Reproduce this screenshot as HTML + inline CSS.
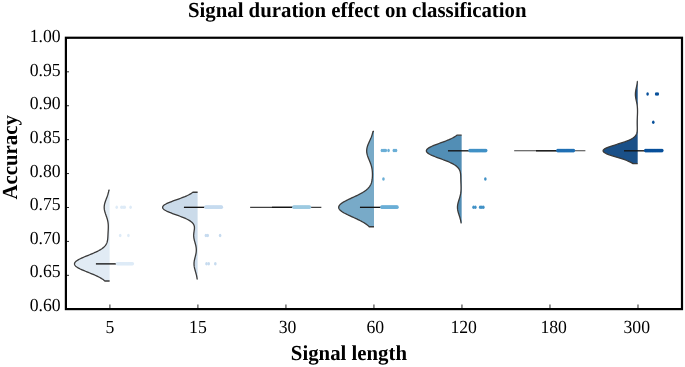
<!DOCTYPE html>
<html><head><meta charset="utf-8"><title>Signal duration effect on classification</title>
<style>html,body{margin:0;padding:0;background:#fff}svg{display:block}</style></head>
<body>
<svg width="685" height="367" viewBox="0 0 685 367">
<rect width="685" height="367" fill="#fff"/>
<path d="M109.61,190.24 L108.88,190.24 L108.77,190.81 L108.66,191.39 L108.54,191.96 L108.40,192.53 L108.26,193.10 L108.10,193.67 L107.94,194.24 L107.76,194.81 L107.58,195.38 L107.38,195.95 L107.18,196.52 L106.98,197.09 L106.76,197.66 L106.55,198.23 L106.33,198.80 L106.11,199.37 L105.89,199.94 L105.68,200.52 L105.48,201.09 L105.28,201.66 L105.09,202.23 L104.92,202.80 L104.76,203.37 L104.62,203.94 L104.49,204.51 L104.39,205.08 L104.31,205.65 L104.25,206.22 L104.21,206.79 L104.20,207.36 L104.21,207.93 L104.25,208.50 L104.30,209.07 L104.38,209.65 L104.49,210.22 L104.61,210.79 L104.74,211.36 L104.90,211.93 L105.07,212.50 L105.25,213.07 L105.43,213.64 L105.63,214.21 L105.83,214.78 L106.03,215.35 L106.24,215.92 L106.44,216.49 L106.63,217.06 L106.83,217.63 L107.01,218.20 L107.18,218.78 L107.35,219.35 L107.50,219.92 L107.64,220.49 L107.76,221.06 L107.88,221.63 L107.97,222.20 L108.06,222.77 L108.13,223.34 L108.19,223.91 L108.24,224.48 L108.27,225.05 L108.30,225.62 L108.31,226.19 L108.32,226.76 L108.31,227.34 L108.30,227.91 L108.29,228.48 L108.27,229.05 L108.24,229.62 L108.21,230.19 L108.18,230.76 L108.15,231.33 L108.12,231.90 L108.09,232.47 L108.06,233.04 L108.03,233.61 L108.00,234.18 L107.98,234.75 L107.95,235.32 L107.92,235.89 L107.89,236.47 L107.86,237.04 L107.82,237.61 L107.78,238.18 L107.73,238.75 L107.67,239.32 L107.59,239.89 L107.50,240.46 L107.39,241.03 L107.25,241.60 L107.09,242.17 L106.89,242.74 L106.66,243.31 L106.39,243.88 L106.07,244.45 L105.70,245.02 L105.28,245.60 L104.80,246.17 L104.26,246.74 L103.65,247.31 L102.97,247.88 L102.23,248.45 L101.41,249.02 L100.52,249.59 L99.56,250.16 L98.53,250.73 L97.42,251.30 L96.26,251.87 L95.03,252.44 L93.75,253.01 L92.43,253.58 L91.07,254.16 L89.68,254.73 L88.28,255.30 L86.88,255.87 L85.49,256.44 L84.12,257.01 L82.79,257.58 L81.51,258.15 L80.30,258.72 L79.17,259.29 L78.14,259.86 L77.22,260.43 L76.41,261.00 L75.74,261.57 L75.21,262.14 L74.82,262.71 L74.58,263.29 L74.50,263.86 L74.57,264.43 L74.80,265.00 L75.19,265.57 L75.71,266.14 L76.38,266.71 L77.18,267.28 L78.10,267.85 L79.13,268.42 L80.26,268.99 L81.47,269.56 L82.75,270.13 L84.09,270.70 L85.47,271.27 L86.88,271.84 L88.29,272.42 L89.71,272.99 L91.12,273.56 L92.50,274.13 L93.85,274.70 L95.16,275.27 L96.42,275.84 L97.62,276.41 L98.76,276.98 L99.84,277.55 L100.85,278.12 L101.79,278.69 L102.66,279.26 L103.46,279.83 L104.19,280.40 L104.86,280.98 L109.61,280.98 Z" fill="#e1ebf4" stroke="none"/>
<path d="M109.61,190.24 L108.88,190.24 L108.77,190.81 L108.66,191.39 L108.54,191.96 L108.40,192.53 L108.26,193.10 L108.10,193.67 L107.94,194.24 L107.76,194.81 L107.58,195.38 L107.38,195.95 L107.18,196.52 L106.98,197.09 L106.76,197.66 L106.55,198.23 L106.33,198.80 L106.11,199.37 L105.89,199.94 L105.68,200.52 L105.48,201.09 L105.28,201.66 L105.09,202.23 L104.92,202.80 L104.76,203.37 L104.62,203.94 L104.49,204.51 L104.39,205.08 L104.31,205.65 L104.25,206.22 L104.21,206.79 L104.20,207.36 L104.21,207.93 L104.25,208.50 L104.30,209.07 L104.38,209.65 L104.49,210.22 L104.61,210.79 L104.74,211.36 L104.90,211.93 L105.07,212.50 L105.25,213.07 L105.43,213.64 L105.63,214.21 L105.83,214.78 L106.03,215.35 L106.24,215.92 L106.44,216.49 L106.63,217.06 L106.83,217.63 L107.01,218.20 L107.18,218.78 L107.35,219.35 L107.50,219.92 L107.64,220.49 L107.76,221.06 L107.88,221.63 L107.97,222.20 L108.06,222.77 L108.13,223.34 L108.19,223.91 L108.24,224.48 L108.27,225.05 L108.30,225.62 L108.31,226.19 L108.32,226.76 L108.31,227.34 L108.30,227.91 L108.29,228.48 L108.27,229.05 L108.24,229.62 L108.21,230.19 L108.18,230.76 L108.15,231.33 L108.12,231.90 L108.09,232.47 L108.06,233.04 L108.03,233.61 L108.00,234.18 L107.98,234.75 L107.95,235.32 L107.92,235.89 L107.89,236.47 L107.86,237.04 L107.82,237.61 L107.78,238.18 L107.73,238.75 L107.67,239.32 L107.59,239.89 L107.50,240.46 L107.39,241.03 L107.25,241.60 L107.09,242.17 L106.89,242.74 L106.66,243.31 L106.39,243.88 L106.07,244.45 L105.70,245.02 L105.28,245.60 L104.80,246.17 L104.26,246.74 L103.65,247.31 L102.97,247.88 L102.23,248.45 L101.41,249.02 L100.52,249.59 L99.56,250.16 L98.53,250.73 L97.42,251.30 L96.26,251.87 L95.03,252.44 L93.75,253.01 L92.43,253.58 L91.07,254.16 L89.68,254.73 L88.28,255.30 L86.88,255.87 L85.49,256.44 L84.12,257.01 L82.79,257.58 L81.51,258.15 L80.30,258.72 L79.17,259.29 L78.14,259.86 L77.22,260.43 L76.41,261.00 L75.74,261.57 L75.21,262.14 L74.82,262.71 L74.58,263.29 L74.50,263.86 L74.57,264.43 L74.80,265.00 L75.19,265.57 L75.71,266.14 L76.38,266.71 L77.18,267.28 L78.10,267.85 L79.13,268.42 L80.26,268.99 L81.47,269.56 L82.75,270.13 L84.09,270.70 L85.47,271.27 L86.88,271.84 L88.29,272.42 L89.71,272.99 L91.12,273.56 L92.50,274.13 L93.85,274.70 L95.16,275.27 L96.42,275.84 L97.62,276.41 L98.76,276.98 L99.84,277.55 L100.85,278.12 L101.79,278.69 L102.66,279.26 L103.46,279.83 L104.19,280.40 L104.86,280.98 L109.61,280.98" fill="none" stroke="#3a3a3a" stroke-width="1.3" stroke-linejoin="round"/>
<path d="M197.62,192.24 L192.88,192.24 L192.16,192.79 L191.36,193.33 L190.48,193.88 L189.52,194.43 L188.48,194.97 L187.36,195.52 L186.16,196.06 L184.89,196.61 L183.55,197.15 L182.14,197.70 L180.69,198.24 L179.20,198.79 L177.68,199.33 L176.15,199.88 L174.62,200.43 L173.11,200.97 L171.64,201.52 L170.22,202.06 L168.87,202.61 L167.62,203.15 L166.47,203.70 L165.45,204.24 L164.57,204.79 L163.84,205.34 L163.27,205.88 L162.88,206.43 L162.66,206.97 L162.63,207.52 L162.77,208.06 L163.10,208.61 L163.60,209.15 L164.27,209.70 L165.10,210.24 L166.07,210.79 L167.16,211.34 L168.38,211.88 L169.68,212.43 L171.07,212.97 L172.51,213.52 L174.00,214.06 L175.51,214.61 L177.02,215.15 L178.53,215.70 L180.01,216.24 L181.45,216.79 L182.83,217.34 L184.16,217.88 L185.41,218.43 L186.59,218.97 L187.68,219.52 L188.69,220.06 L189.60,220.61 L190.43,221.15 L191.17,221.70 L191.82,222.25 L192.38,222.79 L192.87,223.34 L193.28,223.88 L193.61,224.43 L193.88,224.97 L194.09,225.52 L194.25,226.06 L194.36,226.61 L194.42,227.15 L194.44,227.70 L194.44,228.25 L194.41,228.79 L194.36,229.34 L194.29,229.88 L194.21,230.43 L194.13,230.97 L194.05,231.52 L193.96,232.06 L193.89,232.61 L193.82,233.15 L193.76,233.70 L193.72,234.25 L193.69,234.79 L193.68,235.34 L193.69,235.88 L193.72,236.43 L193.76,236.97 L193.82,237.52 L193.90,238.06 L194.00,238.61 L194.11,239.15 L194.23,239.70 L194.36,240.25 L194.50,240.79 L194.65,241.34 L194.81,241.88 L194.96,242.43 L195.12,242.97 L195.27,243.52 L195.42,244.06 L195.57,244.61 L195.70,245.16 L195.83,245.70 L195.94,246.25 L196.04,246.79 L196.13,247.34 L196.20,247.88 L196.25,248.43 L196.29,248.97 L196.32,249.52 L196.32,250.06 L196.31,250.61 L196.28,251.16 L196.24,251.70 L196.18,252.25 L196.10,252.79 L196.01,253.34 L195.91,253.88 L195.80,254.43 L195.68,254.97 L195.55,255.52 L195.41,256.06 L195.27,256.61 L195.13,257.16 L194.99,257.70 L194.85,258.25 L194.72,258.79 L194.59,259.34 L194.47,259.88 L194.36,260.43 L194.26,260.97 L194.18,261.52 L194.11,262.07 L194.07,262.61 L194.03,263.16 L194.02,263.70 L194.02,264.25 L194.05,264.79 L194.09,265.34 L194.15,265.88 L194.22,266.43 L194.31,266.97 L194.42,267.52 L194.53,268.07 L194.66,268.61 L194.80,269.16 L194.95,269.70 L195.10,270.25 L195.26,270.79 L195.41,271.34 L195.57,271.88 L195.73,272.43 L195.88,272.97 L196.03,273.52 L196.17,274.07 L196.31,274.61 L196.44,275.16 L196.57,275.70 L196.68,276.25 L196.79,276.79 L196.89,277.34 L196.98,277.88 L197.06,278.43 L197.13,278.98 L197.62,278.98 Z" fill="#cbdbea" stroke="none"/>
<path d="M197.62,192.24 L192.88,192.24 L192.16,192.79 L191.36,193.33 L190.48,193.88 L189.52,194.43 L188.48,194.97 L187.36,195.52 L186.16,196.06 L184.89,196.61 L183.55,197.15 L182.14,197.70 L180.69,198.24 L179.20,198.79 L177.68,199.33 L176.15,199.88 L174.62,200.43 L173.11,200.97 L171.64,201.52 L170.22,202.06 L168.87,202.61 L167.62,203.15 L166.47,203.70 L165.45,204.24 L164.57,204.79 L163.84,205.34 L163.27,205.88 L162.88,206.43 L162.66,206.97 L162.63,207.52 L162.77,208.06 L163.10,208.61 L163.60,209.15 L164.27,209.70 L165.10,210.24 L166.07,210.79 L167.16,211.34 L168.38,211.88 L169.68,212.43 L171.07,212.97 L172.51,213.52 L174.00,214.06 L175.51,214.61 L177.02,215.15 L178.53,215.70 L180.01,216.24 L181.45,216.79 L182.83,217.34 L184.16,217.88 L185.41,218.43 L186.59,218.97 L187.68,219.52 L188.69,220.06 L189.60,220.61 L190.43,221.15 L191.17,221.70 L191.82,222.25 L192.38,222.79 L192.87,223.34 L193.28,223.88 L193.61,224.43 L193.88,224.97 L194.09,225.52 L194.25,226.06 L194.36,226.61 L194.42,227.15 L194.44,227.70 L194.44,228.25 L194.41,228.79 L194.36,229.34 L194.29,229.88 L194.21,230.43 L194.13,230.97 L194.05,231.52 L193.96,232.06 L193.89,232.61 L193.82,233.15 L193.76,233.70 L193.72,234.25 L193.69,234.79 L193.68,235.34 L193.69,235.88 L193.72,236.43 L193.76,236.97 L193.82,237.52 L193.90,238.06 L194.00,238.61 L194.11,239.15 L194.23,239.70 L194.36,240.25 L194.50,240.79 L194.65,241.34 L194.81,241.88 L194.96,242.43 L195.12,242.97 L195.27,243.52 L195.42,244.06 L195.57,244.61 L195.70,245.16 L195.83,245.70 L195.94,246.25 L196.04,246.79 L196.13,247.34 L196.20,247.88 L196.25,248.43 L196.29,248.97 L196.32,249.52 L196.32,250.06 L196.31,250.61 L196.28,251.16 L196.24,251.70 L196.18,252.25 L196.10,252.79 L196.01,253.34 L195.91,253.88 L195.80,254.43 L195.68,254.97 L195.55,255.52 L195.41,256.06 L195.27,256.61 L195.13,257.16 L194.99,257.70 L194.85,258.25 L194.72,258.79 L194.59,259.34 L194.47,259.88 L194.36,260.43 L194.26,260.97 L194.18,261.52 L194.11,262.07 L194.07,262.61 L194.03,263.16 L194.02,263.70 L194.02,264.25 L194.05,264.79 L194.09,265.34 L194.15,265.88 L194.22,266.43 L194.31,266.97 L194.42,267.52 L194.53,268.07 L194.66,268.61 L194.80,269.16 L194.95,269.70 L195.10,270.25 L195.26,270.79 L195.41,271.34 L195.57,271.88 L195.73,272.43 L195.88,272.97 L196.03,273.52 L196.17,274.07 L196.31,274.61 L196.44,275.16 L196.57,275.70 L196.68,276.25 L196.79,276.79 L196.89,277.34 L196.98,277.88 L197.06,278.43 L197.13,278.98 L197.62,278.98" fill="none" stroke="#3a3a3a" stroke-width="1.3" stroke-linejoin="round"/>
<line x1="250.14" y1="207.34" x2="321.34" y2="207.34" stroke="#404040" stroke-width="1.1"/>
<path d="M374.00,131.41 L373.01,131.41 L372.88,132.01 L372.74,132.61 L372.59,133.21 L372.43,133.81 L372.25,134.41 L372.06,135.01 L371.86,135.61 L371.65,136.21 L371.43,136.81 L371.19,137.41 L370.95,138.01 L370.69,138.61 L370.43,139.21 L370.16,139.81 L369.89,140.41 L369.62,141.01 L369.35,141.61 L369.08,142.20 L368.81,142.80 L368.55,143.40 L368.29,144.00 L368.05,144.60 L367.82,145.20 L367.61,145.80 L367.41,146.40 L367.24,147.00 L367.08,147.60 L366.95,148.20 L366.85,148.80 L366.77,149.40 L366.71,150.00 L366.69,150.60 L366.69,151.20 L366.71,151.80 L366.77,152.40 L366.85,153.00 L366.96,153.60 L367.09,154.20 L367.24,154.80 L367.41,155.40 L367.60,155.99 L367.81,156.59 L368.03,157.19 L368.26,157.79 L368.50,158.39 L368.74,158.99 L368.99,159.59 L369.25,160.19 L369.50,160.79 L369.74,161.39 L369.99,161.99 L370.22,162.59 L370.45,163.19 L370.67,163.79 L370.88,164.39 L371.07,164.99 L371.25,165.59 L371.42,166.19 L371.58,166.79 L371.72,167.39 L371.84,167.99 L371.96,168.59 L372.06,169.19 L372.14,169.78 L372.22,170.38 L372.28,170.98 L372.33,171.58 L372.37,172.18 L372.40,172.78 L372.43,173.38 L372.44,173.98 L372.44,174.58 L372.44,175.18 L372.42,175.78 L372.40,176.38 L372.37,176.98 L372.33,177.58 L372.28,178.18 L372.22,178.78 L372.15,179.38 L372.07,179.98 L371.96,180.58 L371.85,181.18 L371.71,181.78 L371.55,182.38 L371.36,182.98 L371.14,183.57 L370.90,184.17 L370.62,184.77 L370.30,185.37 L369.94,185.97 L369.54,186.57 L369.08,187.17 L368.58,187.77 L368.02,188.37 L367.41,188.97 L366.74,189.57 L366.01,190.17 L365.22,190.77 L364.37,191.37 L363.45,191.97 L362.48,192.57 L361.45,193.17 L360.36,193.77 L359.23,194.37 L358.05,194.97 L356.83,195.57 L355.57,196.17 L354.30,196.77 L353.00,197.36 L351.70,197.96 L350.40,198.56 L349.12,199.16 L347.87,199.76 L346.65,200.36 L345.47,200.96 L344.36,201.56 L343.32,202.16 L342.37,202.76 L341.50,203.36 L340.74,203.96 L340.09,204.56 L339.55,205.16 L339.14,205.76 L338.86,206.36 L338.71,206.96 L338.69,207.56 L338.81,208.16 L339.06,208.76 L339.44,209.36 L339.95,209.96 L340.58,210.56 L341.32,211.15 L342.16,211.75 L343.11,212.35 L344.13,212.95 L345.24,213.55 L346.41,214.15 L347.63,214.75 L348.89,215.35 L350.19,215.95 L351.50,216.55 L352.82,217.15 L354.15,217.75 L355.46,218.35 L356.74,218.95 L358.00,219.55 L359.23,220.15 L360.41,220.75 L361.55,221.35 L362.63,221.95 L363.66,222.55 L364.64,223.15 L365.55,223.75 L366.40,224.35 L367.20,224.95 L367.93,225.54 L368.60,226.14 L369.22,226.74 L374.00,226.74 Z" fill="#78aac8" stroke="none"/>
<path d="M374.00,131.41 L373.01,131.41 L372.88,132.01 L372.74,132.61 L372.59,133.21 L372.43,133.81 L372.25,134.41 L372.06,135.01 L371.86,135.61 L371.65,136.21 L371.43,136.81 L371.19,137.41 L370.95,138.01 L370.69,138.61 L370.43,139.21 L370.16,139.81 L369.89,140.41 L369.62,141.01 L369.35,141.61 L369.08,142.20 L368.81,142.80 L368.55,143.40 L368.29,144.00 L368.05,144.60 L367.82,145.20 L367.61,145.80 L367.41,146.40 L367.24,147.00 L367.08,147.60 L366.95,148.20 L366.85,148.80 L366.77,149.40 L366.71,150.00 L366.69,150.60 L366.69,151.20 L366.71,151.80 L366.77,152.40 L366.85,153.00 L366.96,153.60 L367.09,154.20 L367.24,154.80 L367.41,155.40 L367.60,155.99 L367.81,156.59 L368.03,157.19 L368.26,157.79 L368.50,158.39 L368.74,158.99 L368.99,159.59 L369.25,160.19 L369.50,160.79 L369.74,161.39 L369.99,161.99 L370.22,162.59 L370.45,163.19 L370.67,163.79 L370.88,164.39 L371.07,164.99 L371.25,165.59 L371.42,166.19 L371.58,166.79 L371.72,167.39 L371.84,167.99 L371.96,168.59 L372.06,169.19 L372.14,169.78 L372.22,170.38 L372.28,170.98 L372.33,171.58 L372.37,172.18 L372.40,172.78 L372.43,173.38 L372.44,173.98 L372.44,174.58 L372.44,175.18 L372.42,175.78 L372.40,176.38 L372.37,176.98 L372.33,177.58 L372.28,178.18 L372.22,178.78 L372.15,179.38 L372.07,179.98 L371.96,180.58 L371.85,181.18 L371.71,181.78 L371.55,182.38 L371.36,182.98 L371.14,183.57 L370.90,184.17 L370.62,184.77 L370.30,185.37 L369.94,185.97 L369.54,186.57 L369.08,187.17 L368.58,187.77 L368.02,188.37 L367.41,188.97 L366.74,189.57 L366.01,190.17 L365.22,190.77 L364.37,191.37 L363.45,191.97 L362.48,192.57 L361.45,193.17 L360.36,193.77 L359.23,194.37 L358.05,194.97 L356.83,195.57 L355.57,196.17 L354.30,196.77 L353.00,197.36 L351.70,197.96 L350.40,198.56 L349.12,199.16 L347.87,199.76 L346.65,200.36 L345.47,200.96 L344.36,201.56 L343.32,202.16 L342.37,202.76 L341.50,203.36 L340.74,203.96 L340.09,204.56 L339.55,205.16 L339.14,205.76 L338.86,206.36 L338.71,206.96 L338.69,207.56 L338.81,208.16 L339.06,208.76 L339.44,209.36 L339.95,209.96 L340.58,210.56 L341.32,211.15 L342.16,211.75 L343.11,212.35 L344.13,212.95 L345.24,213.55 L346.41,214.15 L347.63,214.75 L348.89,215.35 L350.19,215.95 L351.50,216.55 L352.82,217.15 L354.15,217.75 L355.46,218.35 L356.74,218.95 L358.00,219.55 L359.23,220.15 L360.41,220.75 L361.55,221.35 L362.63,221.95 L363.66,222.55 L364.64,223.15 L365.55,223.75 L366.40,224.35 L367.20,224.95 L367.93,225.54 L368.60,226.14 L369.22,226.74 L374.00,226.74" fill="none" stroke="#3a3a3a" stroke-width="1.3" stroke-linejoin="round"/>
<path d="M461.66,135.21 L456.89,135.21 L456.17,135.76 L455.39,136.32 L454.52,136.87 L453.58,137.42 L452.56,137.97 L451.46,138.52 L450.29,139.07 L449.04,139.63 L447.73,140.18 L446.35,140.73 L444.93,141.28 L443.47,141.83 L441.97,142.39 L440.46,142.94 L438.95,143.49 L437.45,144.04 L435.98,144.59 L434.56,145.14 L433.20,145.70 L431.92,146.25 L430.74,146.80 L429.67,147.35 L428.74,147.90 L427.94,148.45 L427.30,149.01 L426.82,149.56 L426.51,150.11 L426.37,150.66 L426.41,151.21 L426.63,151.77 L427.01,152.32 L427.57,152.87 L428.28,153.42 L429.14,153.97 L430.14,154.52 L431.26,155.08 L432.48,155.63 L433.80,156.18 L435.18,156.73 L436.63,157.28 L438.11,157.84 L439.61,158.39 L441.12,158.94 L442.62,159.49 L444.10,160.04 L445.54,160.59 L446.93,161.15 L448.27,161.70 L449.54,162.25 L450.74,162.80 L451.87,163.35 L452.91,163.90 L453.88,164.46 L454.77,165.01 L455.58,165.56 L456.31,166.11 L456.96,166.66 L457.54,167.22 L458.06,167.77 L458.51,168.32 L458.90,168.87 L459.24,169.42 L459.53,169.97 L459.78,170.53 L459.98,171.08 L460.15,171.63 L460.29,172.18 L460.41,172.73 L460.50,173.28 L460.57,173.84 L460.63,174.39 L460.67,174.94 L460.71,175.49 L460.73,176.04 L460.75,176.60 L460.77,177.15 L460.78,177.70 L460.79,178.25 L460.80,178.80 L460.81,179.35 L460.83,179.91 L460.84,180.46 L460.85,181.01 L460.87,181.56 L460.89,182.11 L460.91,182.66 L460.93,183.22 L460.95,183.77 L460.97,184.32 L460.99,184.87 L461.01,185.42 L461.02,185.98 L461.04,186.53 L461.05,187.08 L461.05,187.63 L461.05,188.18 L461.05,188.73 L461.04,189.29 L461.02,189.84 L460.99,190.39 L460.95,190.94 L460.91,191.49 L460.85,192.04 L460.78,192.60 L460.71,193.15 L460.62,193.70 L460.52,194.25 L460.41,194.80 L460.28,195.36 L460.15,195.91 L460.01,196.46 L459.86,197.01 L459.70,197.56 L459.54,198.11 L459.37,198.67 L459.19,199.22 L459.02,199.77 L458.84,200.32 L458.67,200.87 L458.50,201.42 L458.34,201.98 L458.18,202.53 L458.04,203.08 L457.91,203.63 L457.79,204.18 L457.69,204.74 L457.60,205.29 L457.54,205.84 L457.49,206.39 L457.47,206.94 L457.46,207.49 L457.48,208.05 L457.52,208.60 L457.57,209.15 L457.65,209.70 L457.75,210.25 L457.86,210.80 L457.98,211.36 L458.13,211.91 L458.28,212.46 L458.44,213.01 L458.61,213.56 L458.78,214.12 L458.96,214.67 L459.14,215.22 L459.32,215.77 L459.50,216.32 L459.67,216.87 L459.84,217.43 L460.01,217.98 L460.16,218.53 L460.31,219.08 L460.45,219.63 L460.58,220.18 L460.70,220.74 L460.81,221.29 L460.92,221.84 L461.01,222.39 L461.10,222.94 L461.66,222.94 Z" fill="#528eb5" stroke="none"/>
<path d="M461.66,135.21 L456.89,135.21 L456.17,135.76 L455.39,136.32 L454.52,136.87 L453.58,137.42 L452.56,137.97 L451.46,138.52 L450.29,139.07 L449.04,139.63 L447.73,140.18 L446.35,140.73 L444.93,141.28 L443.47,141.83 L441.97,142.39 L440.46,142.94 L438.95,143.49 L437.45,144.04 L435.98,144.59 L434.56,145.14 L433.20,145.70 L431.92,146.25 L430.74,146.80 L429.67,147.35 L428.74,147.90 L427.94,148.45 L427.30,149.01 L426.82,149.56 L426.51,150.11 L426.37,150.66 L426.41,151.21 L426.63,151.77 L427.01,152.32 L427.57,152.87 L428.28,153.42 L429.14,153.97 L430.14,154.52 L431.26,155.08 L432.48,155.63 L433.80,156.18 L435.18,156.73 L436.63,157.28 L438.11,157.84 L439.61,158.39 L441.12,158.94 L442.62,159.49 L444.10,160.04 L445.54,160.59 L446.93,161.15 L448.27,161.70 L449.54,162.25 L450.74,162.80 L451.87,163.35 L452.91,163.90 L453.88,164.46 L454.77,165.01 L455.58,165.56 L456.31,166.11 L456.96,166.66 L457.54,167.22 L458.06,167.77 L458.51,168.32 L458.90,168.87 L459.24,169.42 L459.53,169.97 L459.78,170.53 L459.98,171.08 L460.15,171.63 L460.29,172.18 L460.41,172.73 L460.50,173.28 L460.57,173.84 L460.63,174.39 L460.67,174.94 L460.71,175.49 L460.73,176.04 L460.75,176.60 L460.77,177.15 L460.78,177.70 L460.79,178.25 L460.80,178.80 L460.81,179.35 L460.83,179.91 L460.84,180.46 L460.85,181.01 L460.87,181.56 L460.89,182.11 L460.91,182.66 L460.93,183.22 L460.95,183.77 L460.97,184.32 L460.99,184.87 L461.01,185.42 L461.02,185.98 L461.04,186.53 L461.05,187.08 L461.05,187.63 L461.05,188.18 L461.05,188.73 L461.04,189.29 L461.02,189.84 L460.99,190.39 L460.95,190.94 L460.91,191.49 L460.85,192.04 L460.78,192.60 L460.71,193.15 L460.62,193.70 L460.52,194.25 L460.41,194.80 L460.28,195.36 L460.15,195.91 L460.01,196.46 L459.86,197.01 L459.70,197.56 L459.54,198.11 L459.37,198.67 L459.19,199.22 L459.02,199.77 L458.84,200.32 L458.67,200.87 L458.50,201.42 L458.34,201.98 L458.18,202.53 L458.04,203.08 L457.91,203.63 L457.79,204.18 L457.69,204.74 L457.60,205.29 L457.54,205.84 L457.49,206.39 L457.47,206.94 L457.46,207.49 L457.48,208.05 L457.52,208.60 L457.57,209.15 L457.65,209.70 L457.75,210.25 L457.86,210.80 L457.98,211.36 L458.13,211.91 L458.28,212.46 L458.44,213.01 L458.61,213.56 L458.78,214.12 L458.96,214.67 L459.14,215.22 L459.32,215.77 L459.50,216.32 L459.67,216.87 L459.84,217.43 L460.01,217.98 L460.16,218.53 L460.31,219.08 L460.45,219.63 L460.58,220.18 L460.70,220.74 L460.81,221.29 L460.92,221.84 L461.01,222.39 L461.10,222.94 L461.66,222.94" fill="none" stroke="#3a3a3a" stroke-width="1.3" stroke-linejoin="round"/>
<line x1="514.18" y1="150.81" x2="585.38" y2="150.81" stroke="#404040" stroke-width="1.1"/>
<path d="M637.69,81.48 L637.38,81.48 L637.33,82.00 L637.27,82.51 L637.20,83.03 L637.13,83.55 L637.05,84.06 L636.96,84.58 L636.87,85.10 L636.77,85.61 L636.67,86.13 L636.56,86.65 L636.45,87.16 L636.34,87.68 L636.23,88.20 L636.12,88.71 L636.01,89.23 L635.90,89.75 L635.80,90.26 L635.71,90.78 L635.63,91.30 L635.56,91.81 L635.50,92.33 L635.45,92.85 L635.42,93.36 L635.40,93.88 L635.39,94.39 L635.40,94.91 L635.43,95.43 L635.47,95.94 L635.52,96.46 L635.59,96.98 L635.66,97.49 L635.75,98.01 L635.85,98.53 L635.95,99.04 L636.06,99.56 L636.17,100.08 L636.28,100.59 L636.39,101.11 L636.50,101.63 L636.61,102.14 L636.71,102.66 L636.81,103.18 L636.91,103.69 L636.99,104.21 L637.08,104.73 L637.15,105.24 L637.22,105.76 L637.28,106.28 L637.33,106.79 L637.37,107.31 L637.41,107.83 L637.44,108.34 L637.47,108.86 L637.49,109.37 L637.50,109.89 L637.51,110.41 L637.52,110.92 L637.52,111.44 L637.51,111.96 L637.51,112.47 L637.50,112.99 L637.48,113.51 L637.47,114.02 L637.45,114.54 L637.43,115.06 L637.41,115.57 L637.39,116.09 L637.36,116.61 L637.34,117.12 L637.32,117.64 L637.30,118.16 L637.27,118.67 L637.26,119.19 L637.24,119.71 L637.22,120.22 L637.21,120.74 L637.20,121.26 L637.20,121.77 L637.19,122.29 L637.19,122.81 L637.19,123.32 L637.20,123.84 L637.21,124.35 L637.22,124.87 L637.23,125.39 L637.24,125.90 L637.25,126.42 L637.26,126.94 L637.28,127.45 L637.28,127.97 L637.29,128.49 L637.29,129.00 L637.28,129.52 L637.26,130.04 L637.23,130.55 L637.19,131.07 L637.13,131.59 L637.05,132.10 L636.94,132.62 L636.80,133.14 L636.63,133.65 L636.42,134.17 L636.16,134.69 L635.86,135.20 L635.49,135.72 L635.06,136.24 L634.55,136.75 L633.97,137.27 L633.30,137.79 L632.55,138.30 L631.70,138.82 L630.75,139.33 L629.70,139.85 L628.55,140.37 L627.30,140.88 L625.95,141.40 L624.52,141.92 L623.00,142.43 L621.42,142.95 L619.78,143.47 L618.11,143.98 L616.42,144.50 L614.73,145.02 L613.07,145.53 L611.46,146.05 L609.93,146.57 L608.50,147.08 L607.19,147.60 L606.03,148.12 L605.04,148.63 L604.24,149.15 L603.64,149.67 L603.26,150.18 L603.10,150.70 L603.16,151.22 L603.45,151.73 L603.95,152.25 L604.67,152.76 L605.57,153.28 L606.66,153.80 L607.90,154.31 L609.28,154.83 L610.78,155.35 L612.35,155.86 L614.00,156.38 L615.67,156.90 L617.37,157.41 L619.05,157.93 L620.71,158.45 L622.32,158.96 L623.86,159.48 L625.34,160.00 L626.72,160.51 L628.02,161.03 L629.22,161.55 L630.31,162.06 L631.31,162.58 L632.21,163.10 L633.01,163.61 L637.69,163.61 Z" fill="#1a5088" stroke="none"/>
<path d="M637.69,81.48 L637.38,81.48 L637.33,82.00 L637.27,82.51 L637.20,83.03 L637.13,83.55 L637.05,84.06 L636.96,84.58 L636.87,85.10 L636.77,85.61 L636.67,86.13 L636.56,86.65 L636.45,87.16 L636.34,87.68 L636.23,88.20 L636.12,88.71 L636.01,89.23 L635.90,89.75 L635.80,90.26 L635.71,90.78 L635.63,91.30 L635.56,91.81 L635.50,92.33 L635.45,92.85 L635.42,93.36 L635.40,93.88 L635.39,94.39 L635.40,94.91 L635.43,95.43 L635.47,95.94 L635.52,96.46 L635.59,96.98 L635.66,97.49 L635.75,98.01 L635.85,98.53 L635.95,99.04 L636.06,99.56 L636.17,100.08 L636.28,100.59 L636.39,101.11 L636.50,101.63 L636.61,102.14 L636.71,102.66 L636.81,103.18 L636.91,103.69 L636.99,104.21 L637.08,104.73 L637.15,105.24 L637.22,105.76 L637.28,106.28 L637.33,106.79 L637.37,107.31 L637.41,107.83 L637.44,108.34 L637.47,108.86 L637.49,109.37 L637.50,109.89 L637.51,110.41 L637.52,110.92 L637.52,111.44 L637.51,111.96 L637.51,112.47 L637.50,112.99 L637.48,113.51 L637.47,114.02 L637.45,114.54 L637.43,115.06 L637.41,115.57 L637.39,116.09 L637.36,116.61 L637.34,117.12 L637.32,117.64 L637.30,118.16 L637.27,118.67 L637.26,119.19 L637.24,119.71 L637.22,120.22 L637.21,120.74 L637.20,121.26 L637.20,121.77 L637.19,122.29 L637.19,122.81 L637.19,123.32 L637.20,123.84 L637.21,124.35 L637.22,124.87 L637.23,125.39 L637.24,125.90 L637.25,126.42 L637.26,126.94 L637.28,127.45 L637.28,127.97 L637.29,128.49 L637.29,129.00 L637.28,129.52 L637.26,130.04 L637.23,130.55 L637.19,131.07 L637.13,131.59 L637.05,132.10 L636.94,132.62 L636.80,133.14 L636.63,133.65 L636.42,134.17 L636.16,134.69 L635.86,135.20 L635.49,135.72 L635.06,136.24 L634.55,136.75 L633.97,137.27 L633.30,137.79 L632.55,138.30 L631.70,138.82 L630.75,139.33 L629.70,139.85 L628.55,140.37 L627.30,140.88 L625.95,141.40 L624.52,141.92 L623.00,142.43 L621.42,142.95 L619.78,143.47 L618.11,143.98 L616.42,144.50 L614.73,145.02 L613.07,145.53 L611.46,146.05 L609.93,146.57 L608.50,147.08 L607.19,147.60 L606.03,148.12 L605.04,148.63 L604.24,149.15 L603.64,149.67 L603.26,150.18 L603.10,150.70 L603.16,151.22 L603.45,151.73 L603.95,152.25 L604.67,152.76 L605.57,153.28 L606.66,153.80 L607.90,154.31 L609.28,154.83 L610.78,155.35 L612.35,155.86 L614.00,156.38 L615.67,156.90 L617.37,157.41 L619.05,157.93 L620.71,158.45 L622.32,158.96 L623.86,159.48 L625.34,160.00 L626.72,160.51 L628.02,161.03 L629.22,161.55 L630.31,162.06 L631.31,162.58 L632.21,163.10 L633.01,163.61 L637.69,163.61" fill="none" stroke="#3a3a3a" stroke-width="1.3" stroke-linejoin="round"/>
<line x1="95.91" y1="263.88" x2="123.91" y2="263.88" stroke="#141414" stroke-width="1.35"/>
<line x1="183.92" y1="207.34" x2="211.92" y2="207.34" stroke="#141414" stroke-width="1.35"/>
<line x1="271.94" y1="207.34" x2="299.94" y2="207.34" stroke="#141414" stroke-width="1.35"/>
<line x1="359.95" y1="207.34" x2="387.95" y2="207.34" stroke="#141414" stroke-width="1.35"/>
<line x1="447.96" y1="150.81" x2="475.96" y2="150.81" stroke="#141414" stroke-width="1.35"/>
<line x1="535.98" y1="150.81" x2="563.98" y2="150.81" stroke="#141414" stroke-width="1.35"/>
<line x1="623.99" y1="150.81" x2="651.99" y2="150.81" stroke="#141414" stroke-width="1.35"/>
<g fill="#deebf7"><ellipse cx="117.21" cy="263.68" rx="1.6" ry="1.8"/><ellipse cx="118.11" cy="263.68" rx="1.6" ry="1.8"/><ellipse cx="119.01" cy="263.68" rx="1.6" ry="1.8"/><ellipse cx="119.91" cy="263.68" rx="1.6" ry="1.8"/><ellipse cx="120.81" cy="263.68" rx="1.6" ry="1.8"/><ellipse cx="121.71" cy="263.68" rx="1.6" ry="1.8"/><ellipse cx="122.61" cy="263.68" rx="1.6" ry="1.8"/><ellipse cx="123.51" cy="263.68" rx="1.6" ry="1.8"/><ellipse cx="124.41" cy="263.68" rx="1.6" ry="1.8"/><ellipse cx="125.31" cy="263.68" rx="1.6" ry="1.8"/><ellipse cx="126.21" cy="263.68" rx="1.6" ry="1.8"/><ellipse cx="127.11" cy="263.68" rx="1.6" ry="1.8"/><ellipse cx="128.01" cy="263.68" rx="1.6" ry="1.8"/><ellipse cx="128.91" cy="263.68" rx="1.6" ry="1.8"/><ellipse cx="129.81" cy="263.68" rx="1.6" ry="1.8"/><ellipse cx="130.71" cy="263.68" rx="1.6" ry="1.8"/><ellipse cx="131.61" cy="263.68" rx="1.6" ry="1.8"/><ellipse cx="132.51" cy="263.68" rx="1.6" ry="1.8"/><ellipse cx="116.71" cy="207.14" rx="1.3" ry="1.75"/><ellipse cx="121.41" cy="207.14" rx="1.3" ry="1.75"/><ellipse cx="123.11" cy="207.14" rx="1.3" ry="1.75"/><ellipse cx="124.71" cy="207.14" rx="1.3" ry="1.75"/><ellipse cx="130.61" cy="207.14" rx="1.3" ry="1.75"/><ellipse cx="120.21" cy="235.41" rx="1.3" ry="1.75"/><ellipse cx="128.41" cy="235.41" rx="1.3" ry="1.75"/></g>
<g fill="#c6dbef"><ellipse cx="205.72" cy="207.14" rx="1.6" ry="1.8"/><ellipse cx="206.65" cy="207.14" rx="1.6" ry="1.8"/><ellipse cx="207.58" cy="207.14" rx="1.6" ry="1.8"/><ellipse cx="208.51" cy="207.14" rx="1.6" ry="1.8"/><ellipse cx="209.44" cy="207.14" rx="1.6" ry="1.8"/><ellipse cx="210.37" cy="207.14" rx="1.6" ry="1.8"/><ellipse cx="211.30" cy="207.14" rx="1.6" ry="1.8"/><ellipse cx="212.23" cy="207.14" rx="1.6" ry="1.8"/><ellipse cx="213.16" cy="207.14" rx="1.6" ry="1.8"/><ellipse cx="214.09" cy="207.14" rx="1.6" ry="1.8"/><ellipse cx="215.02" cy="207.14" rx="1.6" ry="1.8"/><ellipse cx="215.94" cy="207.14" rx="1.6" ry="1.8"/><ellipse cx="216.87" cy="207.14" rx="1.6" ry="1.8"/><ellipse cx="217.80" cy="207.14" rx="1.6" ry="1.8"/><ellipse cx="218.73" cy="207.14" rx="1.6" ry="1.8"/><ellipse cx="219.66" cy="207.14" rx="1.6" ry="1.8"/><ellipse cx="220.59" cy="207.14" rx="1.6" ry="1.8"/><ellipse cx="221.52" cy="207.14" rx="1.6" ry="1.8"/><ellipse cx="205.92" cy="235.41" rx="1.3" ry="1.75"/><ellipse cx="207.72" cy="235.41" rx="1.3" ry="1.75"/><ellipse cx="220.12" cy="235.41" rx="1.3" ry="1.75"/><ellipse cx="206.52" cy="263.68" rx="1.3" ry="1.75"/><ellipse cx="208.72" cy="263.68" rx="1.3" ry="1.75"/><ellipse cx="215.32" cy="263.68" rx="1.3" ry="1.75"/></g>
<g fill="#9dcae1"><ellipse cx="293.74" cy="207.14" rx="1.6" ry="1.8"/><ellipse cx="294.67" cy="207.14" rx="1.6" ry="1.8"/><ellipse cx="295.59" cy="207.14" rx="1.6" ry="1.8"/><ellipse cx="296.52" cy="207.14" rx="1.6" ry="1.8"/><ellipse cx="297.45" cy="207.14" rx="1.6" ry="1.8"/><ellipse cx="298.38" cy="207.14" rx="1.6" ry="1.8"/><ellipse cx="299.31" cy="207.14" rx="1.6" ry="1.8"/><ellipse cx="300.24" cy="207.14" rx="1.6" ry="1.8"/><ellipse cx="301.17" cy="207.14" rx="1.6" ry="1.8"/><ellipse cx="302.10" cy="207.14" rx="1.6" ry="1.8"/><ellipse cx="303.03" cy="207.14" rx="1.6" ry="1.8"/><ellipse cx="303.96" cy="207.14" rx="1.6" ry="1.8"/><ellipse cx="304.89" cy="207.14" rx="1.6" ry="1.8"/><ellipse cx="305.82" cy="207.14" rx="1.6" ry="1.8"/><ellipse cx="306.75" cy="207.14" rx="1.6" ry="1.8"/><ellipse cx="307.68" cy="207.14" rx="1.6" ry="1.8"/><ellipse cx="308.61" cy="207.14" rx="1.6" ry="1.8"/><ellipse cx="309.54" cy="207.14" rx="1.6" ry="1.8"/></g>
<g fill="#6aaed6"><ellipse cx="381.75" cy="207.14" rx="1.6" ry="1.8"/><ellipse cx="382.66" cy="207.14" rx="1.6" ry="1.8"/><ellipse cx="383.56" cy="207.14" rx="1.6" ry="1.8"/><ellipse cx="384.47" cy="207.14" rx="1.6" ry="1.8"/><ellipse cx="385.37" cy="207.14" rx="1.6" ry="1.8"/><ellipse cx="386.28" cy="207.14" rx="1.6" ry="1.8"/><ellipse cx="387.19" cy="207.14" rx="1.6" ry="1.8"/><ellipse cx="388.09" cy="207.14" rx="1.6" ry="1.8"/><ellipse cx="389.00" cy="207.14" rx="1.6" ry="1.8"/><ellipse cx="389.90" cy="207.14" rx="1.6" ry="1.8"/><ellipse cx="390.81" cy="207.14" rx="1.6" ry="1.8"/><ellipse cx="391.71" cy="207.14" rx="1.6" ry="1.8"/><ellipse cx="392.62" cy="207.14" rx="1.6" ry="1.8"/><ellipse cx="393.53" cy="207.14" rx="1.6" ry="1.8"/><ellipse cx="394.43" cy="207.14" rx="1.6" ry="1.8"/><ellipse cx="395.34" cy="207.14" rx="1.6" ry="1.8"/><ellipse cx="396.24" cy="207.14" rx="1.6" ry="1.8"/><ellipse cx="397.15" cy="207.14" rx="1.6" ry="1.8"/><ellipse cx="383.45" cy="178.88" rx="1.3" ry="1.75"/><ellipse cx="381.95" cy="150.61" rx="1.3" ry="1.75"/><ellipse cx="383.25" cy="150.61" rx="1.3" ry="1.75"/><ellipse cx="384.55" cy="150.61" rx="1.3" ry="1.75"/><ellipse cx="385.75" cy="150.61" rx="1.3" ry="1.75"/><ellipse cx="388.55" cy="150.61" rx="1.3" ry="1.75"/><ellipse cx="393.85" cy="150.61" rx="1.3" ry="1.75"/><ellipse cx="394.95" cy="150.61" rx="1.3" ry="1.75"/><ellipse cx="396.05" cy="150.61" rx="1.3" ry="1.75"/></g>
<g fill="#4191c6"><ellipse cx="469.86" cy="150.61" rx="1.6" ry="1.8"/><ellipse cx="470.81" cy="150.61" rx="1.6" ry="1.8"/><ellipse cx="471.75" cy="150.61" rx="1.6" ry="1.8"/><ellipse cx="472.69" cy="150.61" rx="1.6" ry="1.8"/><ellipse cx="473.63" cy="150.61" rx="1.6" ry="1.8"/><ellipse cx="474.57" cy="150.61" rx="1.6" ry="1.8"/><ellipse cx="475.51" cy="150.61" rx="1.6" ry="1.8"/><ellipse cx="476.45" cy="150.61" rx="1.6" ry="1.8"/><ellipse cx="477.39" cy="150.61" rx="1.6" ry="1.8"/><ellipse cx="478.33" cy="150.61" rx="1.6" ry="1.8"/><ellipse cx="479.28" cy="150.61" rx="1.6" ry="1.8"/><ellipse cx="480.22" cy="150.61" rx="1.6" ry="1.8"/><ellipse cx="481.16" cy="150.61" rx="1.6" ry="1.8"/><ellipse cx="482.10" cy="150.61" rx="1.6" ry="1.8"/><ellipse cx="483.04" cy="150.61" rx="1.6" ry="1.8"/><ellipse cx="483.98" cy="150.61" rx="1.6" ry="1.8"/><ellipse cx="484.92" cy="150.61" rx="1.6" ry="1.8"/><ellipse cx="485.86" cy="150.61" rx="1.6" ry="1.8"/><ellipse cx="485.36" cy="178.88" rx="1.3" ry="1.75"/><ellipse cx="473.56" cy="207.14" rx="1.3" ry="1.75"/><ellipse cx="475.36" cy="207.14" rx="1.3" ry="1.75"/><ellipse cx="480.16" cy="207.14" rx="1.3" ry="1.75"/><ellipse cx="481.76" cy="207.14" rx="1.3" ry="1.75"/><ellipse cx="483.36" cy="207.14" rx="1.3" ry="1.75"/></g>
<g fill="#2070b4"><ellipse cx="557.78" cy="150.61" rx="1.6" ry="1.8"/><ellipse cx="558.71" cy="150.61" rx="1.6" ry="1.8"/><ellipse cx="559.64" cy="150.61" rx="1.6" ry="1.8"/><ellipse cx="560.57" cy="150.61" rx="1.6" ry="1.8"/><ellipse cx="561.50" cy="150.61" rx="1.6" ry="1.8"/><ellipse cx="562.43" cy="150.61" rx="1.6" ry="1.8"/><ellipse cx="563.36" cy="150.61" rx="1.6" ry="1.8"/><ellipse cx="564.28" cy="150.61" rx="1.6" ry="1.8"/><ellipse cx="565.21" cy="150.61" rx="1.6" ry="1.8"/><ellipse cx="566.14" cy="150.61" rx="1.6" ry="1.8"/><ellipse cx="567.07" cy="150.61" rx="1.6" ry="1.8"/><ellipse cx="568.00" cy="150.61" rx="1.6" ry="1.8"/><ellipse cx="568.93" cy="150.61" rx="1.6" ry="1.8"/><ellipse cx="569.86" cy="150.61" rx="1.6" ry="1.8"/><ellipse cx="570.79" cy="150.61" rx="1.6" ry="1.8"/><ellipse cx="571.72" cy="150.61" rx="1.6" ry="1.8"/><ellipse cx="572.65" cy="150.61" rx="1.6" ry="1.8"/><ellipse cx="573.58" cy="150.61" rx="1.6" ry="1.8"/></g>
<g fill="#08509b"><ellipse cx="645.59" cy="150.61" rx="1.6" ry="1.8"/><ellipse cx="646.56" cy="150.61" rx="1.6" ry="1.8"/><ellipse cx="647.52" cy="150.61" rx="1.6" ry="1.8"/><ellipse cx="648.49" cy="150.61" rx="1.6" ry="1.8"/><ellipse cx="649.45" cy="150.61" rx="1.6" ry="1.8"/><ellipse cx="650.42" cy="150.61" rx="1.6" ry="1.8"/><ellipse cx="651.38" cy="150.61" rx="1.6" ry="1.8"/><ellipse cx="652.35" cy="150.61" rx="1.6" ry="1.8"/><ellipse cx="653.31" cy="150.61" rx="1.6" ry="1.8"/><ellipse cx="654.28" cy="150.61" rx="1.6" ry="1.8"/><ellipse cx="655.24" cy="150.61" rx="1.6" ry="1.8"/><ellipse cx="656.20" cy="150.61" rx="1.6" ry="1.8"/><ellipse cx="657.17" cy="150.61" rx="1.6" ry="1.8"/><ellipse cx="658.13" cy="150.61" rx="1.6" ry="1.8"/><ellipse cx="659.10" cy="150.61" rx="1.6" ry="1.8"/><ellipse cx="660.06" cy="150.61" rx="1.6" ry="1.8"/><ellipse cx="661.03" cy="150.61" rx="1.6" ry="1.8"/><ellipse cx="661.99" cy="150.61" rx="1.6" ry="1.8"/><ellipse cx="653.29" cy="122.35" rx="1.3" ry="1.75"/><ellipse cx="647.59" cy="94.08" rx="1.3" ry="1.75"/><ellipse cx="656.19" cy="94.08" rx="1.3" ry="1.75"/><ellipse cx="657.79" cy="94.08" rx="1.3" ry="1.75"/></g>
<rect x="65.9" y="37.75" width="616.1" height="271.35" fill="none" stroke="#000" stroke-width="2.2"/>
<path d="M65.9,309.25h3.1 M65.9,275.33h3.1 M65.9,241.41h3.1 M65.9,207.49h3.1 M65.9,173.57h3.1 M65.9,139.66h3.1 M65.9,105.74h3.1 M65.9,71.82h3.1 M65.9,37.90h3.1 M109.91,309.1v-4.6 M197.92,309.1v-4.6 M285.94,309.1v-4.6 M373.95,309.1v-4.6 M461.96,309.1v-4.6 M549.98,309.1v-4.6 M637.99,309.1v-4.6" stroke="#000" stroke-width="0.85" fill="none"/>
<g font-family="'Liberation Serif', 'Times New Roman', serif" fill="#000" text-rendering="geometricPrecision">
<g font-size="17.7" text-anchor="end">
<text transform="translate(60.6,311.05) scale(1,1.045)">0.60</text>
<text transform="translate(60.6,277.42) scale(1,1.045)">0.65</text>
<text transform="translate(60.6,243.79) scale(1,1.045)">0.70</text>
<text transform="translate(60.6,210.16) scale(1,1.045)">0.75</text>
<text transform="translate(60.6,176.52) scale(1,1.045)">0.80</text>
<text transform="translate(60.6,142.89) scale(1,1.045)">0.85</text>
<text transform="translate(60.6,109.26) scale(1,1.045)">0.90</text>
<text transform="translate(60.6,75.63) scale(1,1.045)">0.95</text>
<text transform="translate(60.6,42.00) scale(1,1.045)">1.00</text>
</g>
<g font-size="17.7" text-anchor="middle">
<text transform="translate(109.81,333.3) scale(1,1.045)">5</text>
<text transform="translate(197.92,333.3) scale(1,1.045)">15</text>
<text transform="translate(287.54,333.3) scale(1,1.045)">30</text>
<text transform="translate(375.35,333.3) scale(1,1.045)">60</text>
<text transform="translate(463.66,333.3) scale(1,1.045)">120</text>
<text transform="translate(553.68,333.3) scale(1,1.045)">180</text>
<text transform="translate(636.79,333.3) scale(1,1.045)">300</text>
</g>
<g font-size="20.8" font-weight="bold" text-anchor="middle">
<text transform="translate(357.2,16.65) scale(1,1.03)">Signal duration effect on classification</text>
<text transform="translate(348.9,359.7) scale(1,1.03)">Signal length</text>
<text transform="translate(17.4,157.35) rotate(-90) scale(1,1.03)">Accuracy</text>
</g></g>
</svg>
</body></html>
